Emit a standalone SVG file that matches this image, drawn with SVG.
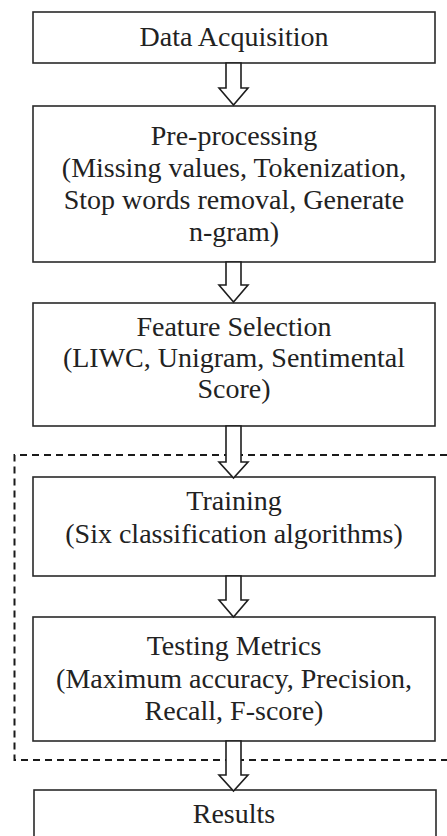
<svg xmlns="http://www.w3.org/2000/svg" width="447" height="836" viewBox="0 0 447 836">
  <style>
    .box { fill: #ffffff; stroke: #2a2a2a; stroke-width: 1.6; }
    .arrow { fill: #ffffff; stroke: #1e1e1e; stroke-width: 1.6; stroke-linejoin: miter; }
    .group { fill: none; stroke: #1a1a1a; stroke-width: 2; stroke-dasharray: 7 5; }
    .label { font-family: 'Liberation Serif', 'Times New Roman', Tinos, 'DejaVu Serif', serif; font-size: 28px; fill: #222222; text-anchor: middle; }
  </style>
  <rect width="447" height="836" fill="#ffffff"/>

  <!-- dashed frame around the training / testing stages -->
  <path id="model-stage" class="group" d="M447,455 H14.5 V760 H447"/>

  <g id="data-acquisition">
    <rect class="box" x="33" y="12" width="402" height="51"/>
    <text class="label" x="234" y="46" font-family="Liberation Serif">Data Acquisition</text>
  </g>

  <g id="pre-processing">
    <rect class="box" x="33" y="106" width="402" height="156"/>
    <text class="label" x="234" y="145">Pre-processing</text>
    <text class="label" x="234" y="177">(Missing values, Tokenization,</text>
    <text class="label" x="234" y="209">Stop words removal, Generate</text>
    <text class="label" x="234" y="241">n-gram)</text>
  </g>

  <g id="feature-selection">
    <rect class="box" x="33" y="303" width="402" height="123"/>
    <text class="label" x="234" y="336">Feature Selection</text>
    <text class="label" x="234" y="367">(LIWC, Unigram, Sentimental</text>
    <text class="label" x="234" y="398">Score)</text>
  </g>

  <g id="training">
    <rect class="box" x="33" y="477" width="402" height="99"/>
    <text class="label" x="234" y="510">Training</text>
    <text class="label" x="234" y="543">(Six classification algorithms)</text>
  </g>

  <g id="testing-metrics">
    <rect class="box" x="33" y="617" width="402" height="124"/>
    <text class="label" x="234" y="655">Testing Metrics</text>
    <text class="label" x="234" y="688">(Maximum accuracy, Precision,</text>
    <text class="label" x="234" y="720">Recall, F-score)</text>
  </g>

  <g id="results">
    <rect class="box" x="34" y="790" width="402" height="60"/>
    <text class="label" x="234" y="823">Results</text>
  </g>

  <!-- block arrows between stages -->
  <g id="connectors">
    <polygon class="arrow" points="226,63 241,63 241,88 248,88 233.5,105 219,88 226,88"/>
    <polygon class="arrow" points="226,262 241,262 241,285 248,285 233.5,302 219,285 226,285"/>
    <polygon class="arrow" points="226,426 241,426 241,462 248,462 233.5,478 219,462 226,462"/>
    <polygon class="arrow" points="226,576 241,576 241,600 248,600 233.5,617 219,600 226,600"/>
    <polygon class="arrow" points="226,741 241,741 241,775 248,775 233.5,791 219,775 226,775"/>
  </g>
</svg>
